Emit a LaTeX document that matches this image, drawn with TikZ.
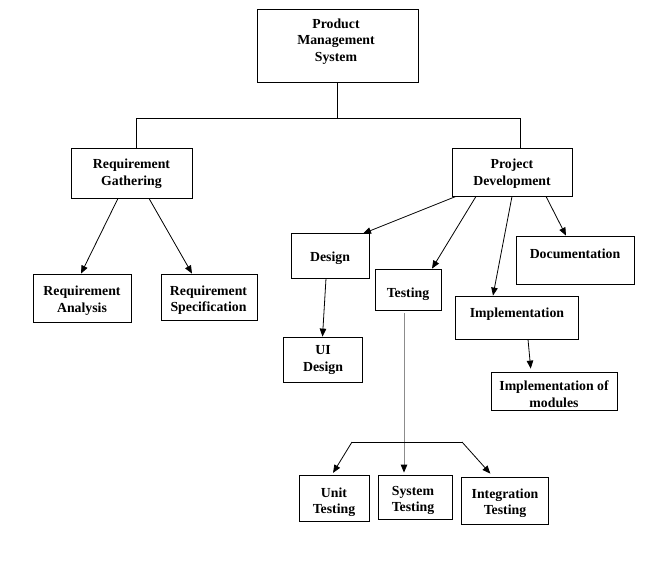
\documentclass[tikz,border=0pt]{standalone}
\usepackage{fontspec}
\setmainfont{Liberation Serif}
\usetikzlibrary{arrows.meta,calc}
\begin{document}
\begin{tikzpicture}[x=1pt,y=-1pt,
  box/.style={draw=black,line width=0.8pt,inner sep=0pt,fill=white},
  lbl/.style={align=center,inner sep=0pt,font=\fontsize{13.8}{16.5}\selectfont\bfseries},
  link/.style={draw=black,line width=0.8pt},
  arr/.style={link,-{Triangle[length=8pt,width=6.5pt]}},
  grayline/.style={draw=black!45,line width=0.9pt}]
\useasboundingbox (0,0) rectangle (648,565);
% boxes
\node[box,minimum width=161pt,minimum height=73pt] (pms) at (337.5,45.5) {};
\node[box,minimum width=121pt,minimum height=50pt] (rg) at (131.5,173) {};
\node[box,minimum width=120pt,minimum height=48pt] (pd) at (512,172) {};
\node[box,minimum width=98pt,minimum height=48pt] (ra) at (82,298) {};
\node[box,minimum width=96pt,minimum height=46pt] (rs) at (209,297) {};
\node[box,minimum width=78pt,minimum height=45pt] (design) at (330,255.5) {};
\node[box,minimum width=66pt,minimum height=41pt] (testing) at (408,289.5) {};
\node[box,minimum width=118pt,minimum height=48pt] (doc) at (575,260) {};
\node[box,minimum width=123pt,minimum height=43pt] (impl) at (516.5,317.5) {};
\node[box,minimum width=126pt,minimum height=38pt] (implm) at (554,391) {};
\node[box,minimum width=79pt,minimum height=45pt] (ui) at (322.5,359.5) {};
\node[box,minimum width=70pt,minimum height=46pt] (unit) at (334,498) {};
\node[box,minimum width=74pt,minimum height=44pt] (sys) at (415,497) {};
\node[box,minimum width=87pt,minimum height=47pt] (integ) at (504.5,500.5) {};
% texts
\node[lbl] (pms-t) at (336,41.5) {Product\\Management\\System};
\node[lbl] (rg-t) at (131.5,173.5) {Requirement\\Gathering};
\node[lbl] (pd-t) at (512,173.5) {Project\\Development};
\node[lbl] (ra-t) at (82,300.5) {Requirement\\Analysis};
\node[lbl] (rs-t) at (208.5,300) {Requirement\\Specification};
\node[lbl] (design-t) at (330,258) {Design};
\node[lbl] (testing-t) at (408,294) {Testing};
\node[lbl] (doc-t) at (575,254) {Documentation};
\node[lbl] (impl-t) at (517,314) {Implementation};
\node[lbl] (implm-t) at (554,394) {Implementation of\\modules};
\node[lbl] (ui-t) at (323,360) {UI\\Design};
\node[lbl] (unit-t) at (334,502) {Unit\\Testing};
\node[lbl] (sys-t) at (413,500.5) {System\\Testing};
\node[lbl] (integ-t) at (505,503) {Integration\\Testing};
% top connector
\coordinate (jl) at (136,118);
\coordinate (jr) at (520,118);
\draw[link] ([xshift=4.5pt]rg.north) -- (jl) -- (jr) -- ([xshift=8pt]pd.north);
\draw[link] (pms.south) -- (pms.south |- jl);
% requirement gathering arrows
\draw[arr] ([xshift=-13.5pt]rg.south) -- ([xshift=-1pt]ra.north);
\draw[arr] ([xshift=17.5pt]rg.south) -- ([xshift=-17pt]rs.north);
% project development arrows
\draw[arr] ([xshift=-56pt]pd.south) -- ([xshift=33pt,yshift=-1pt]design.north);
\draw[arr] ([xshift=-36pt]pd.south) -- ([xshift=24pt]testing.north);
\draw[arr] (pd.south) -- ([xshift=-23.5pt]impl.north);
\draw[arr] ([xshift=34pt]pd.south) -- ([xshift=-9pt]doc.north);
\draw[arr] ([xshift=-4pt]design.south) -- (ui.north);
\draw[arr,shorten >=3pt] ([xshift=11.5pt]impl.south) -- ([xshift=-23pt]implm.north);
% testing branches
\coordinate (tl) at (352,442);
\coordinate (tr) at (462,442);
\draw[grayline,shorten <=3pt,shorten >=2pt,-{Triangle[length=8pt,width=6.5pt,color=black]}] ([xshift=-4pt]testing.south) -- ([xshift=-11pt]sys.north);
\draw[link] (tl) -- (tr);
\draw[arr,shorten >=2pt] (tl) -- ([xshift=-2pt]unit.north);
\draw[arr,shorten >=4pt] (tr) -- ([xshift=-11.5pt]integ.north);
\end{tikzpicture}
\end{document}
